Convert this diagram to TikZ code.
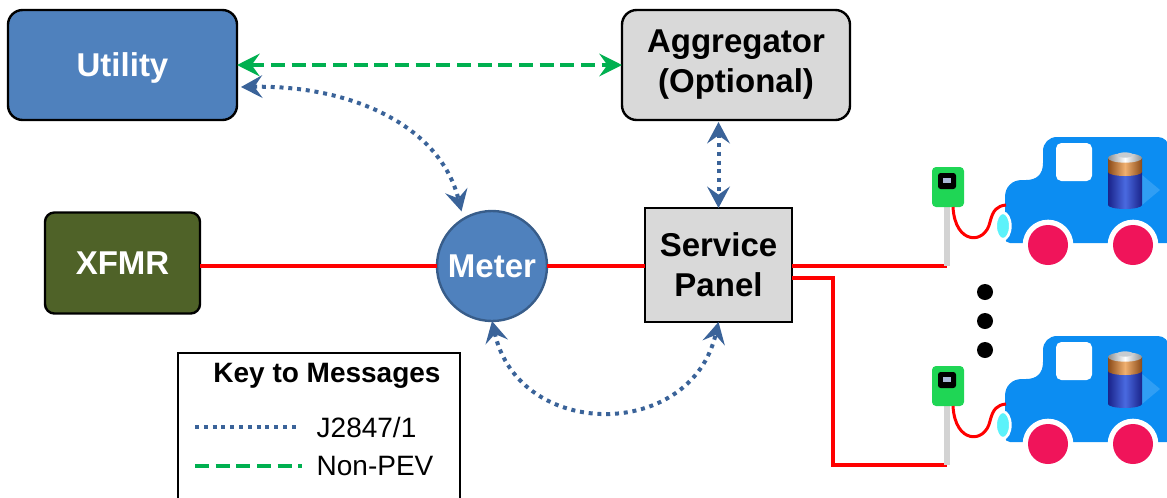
\documentclass[tikz,border=0pt]{standalone}
\usepackage{fontspec}
\setmainfont{Liberation Sans}
\usetikzlibrary{arrows.meta,calc}

\definecolor{utilblue}{HTML}{4F81BD}
\definecolor{meterrim}{HTML}{385D8A}
\definecolor{panelgray}{HTML}{D9D9D9}
\definecolor{xfmrgreen}{HTML}{4F6228}
\definecolor{msgblue}{HTML}{3A6399}
\definecolor{pevgreen}{HTML}{00B050}
\definecolor{powerred}{HTML}{FF0000}
\definecolor{carblue}{HTML}{0C8DF2}
\definecolor{wheelred}{HTML}{F0145A}
\definecolor{lampcyan}{HTML}{5CF2FA}
\definecolor{chargegreen}{HTML}{1FD655}
\definecolor{polegray}{HTML}{D3D3D3}
\definecolor{screenblue}{HTML}{A9B8D8}
\definecolor{batdark}{HTML}{1A238A}
\definecolor{batlight}{HTML}{4A6AE0}
\definecolor{copperdark}{HTML}{8A4A18}
\definecolor{copperlight}{HTML}{F0B070}
\definecolor{capgray}{HTML}{C8CCD0}

\newcommand\lblfont{\fontsize{24.75pt}{30pt}\selectfont\bfseries}
\newcommand\keyfont{\fontsize{21pt}{25pt}\selectfont}

% one charging post with its car, moved down by #1
\newcommand\evstation[1]{%
  \begin{scope}[shift={(0,#1)}]
    % post
    \fill[polegray] (944,207) rectangle (950,266);
    \fill[chargegreen, rounded corners=3pt] (932,167) rectangle (964,207);
    \fill[black, rounded corners=2pt] (938,173) rectangle (956,189);
    \fill[screenblue] (943,178) rectangle (951,183);
    % car body
    \fill[carblue] (1185,243) -- (1185,160) -- (1169,160) -- (1169,148)
      .. controls (1169,142) and (1164,137) .. (1158,137) -- (1057,137)
      .. controls (1049,137) and (1043,143) .. (1043,151) -- (1043,163)
      .. controls (1043,175) and (1036,180) .. (1026,180) -- (1022,180)
      .. controls (1012,180) and (1005,187) .. (1005,197) -- (1005,238)
      .. controls (1005,241) and (1007,243) .. (1010,243) -- cycle;
    % window
    \fill[white, rounded corners=4pt] (1056,143) rectangle (1092,181);
    % charging cable
    \draw[powerred, line width=2.25pt] (953,207)
      .. controls (955,245) and (985,245) .. (990,222)
      .. controls (993,210) and (997,206) .. (1006,205);
    % lamp
    \filldraw[fill=lampcyan, draw=white, line width=2pt] (1003,226) ellipse (5.5pt and 10pt);
    % wheels
    \foreach \wx in {1048,1133} {
      \fill[white] (\wx,245) circle (19pt);
      \fill[wheelred] (\wx,245) circle (15pt);
    }
    % battery glow
    \fill[carblue!70!white, opacity=0.5] (1142,175) -- (1160,190) -- (1142,205) -- cycle;
    % battery
    \shade[left color=batdark, right color=batdark, middle color=batlight]
      (1108,172) -- (1108,205) arc[start angle=180, end angle=360, x radius=12.75pt, y radius=3pt]
      -- (1142,172) -- cycle;
    \shade[left color=copperdark, right color=copperdark, middle color=copperlight]
      (1108,158) -- (1108,172) arc[start angle=180, end angle=360, x radius=12.75pt, y radius=3pt]
      -- (1142,158) -- cycle;
    \shade[left color=capgray!70!black, right color=capgray!70!black, middle color=white]
      (1125,158) ellipse (12.75pt and 3.5pt);
    \fill[capgray] (1125,155) ellipse (6pt and 2pt);
  \end{scope}%
}

\begin{document}
\begin{tikzpicture}[x=0.75pt, y=-0.75pt,
  unit/.style={line width=1.8pt, inner sep=0pt, outer sep=0pt, align=center, font=\lblfont},
  power/.style={draw=powerred, line width=3pt},
  jmsg/.style={draw=msgblue, line width=3pt, dash pattern=on 3pt off 3.6pt},
  jmsgarrow/.style={jmsg, arrows={Stealth[length=16pt,width=17pt,inset=6pt]-Stealth[length=16pt,width=17pt,inset=6pt]}},
  nonpev/.style={draw=pevgreen, line width=3pt, dash pattern=on 10.5pt off 5pt},
  nonpevarrow/.style={nonpev, arrows={Stealth[length=17pt,width=17pt,inset=6pt]-Stealth[length=17pt,width=17pt,inset=6pt]}},
  dot/.style={fill=black}]

\useasboundingbox (0,0) rectangle (1167,497);
\clip (0,0) rectangle (1167,497);

% equipment
\node[unit, draw=black, fill=utilblue, text=white, rounded corners=11pt,
      minimum width=171.75pt, minimum height=82.5pt] (utility) at (122.5,65) {};
\node[font=\lblfont, text=white] (utilitylabel) at (122.5,68) {Utility};
\node[unit, draw=black, fill=panelgray, rounded corners=11pt,
      minimum width=171pt, minimum height=82.5pt] (aggregator) at (736,65) {Aggregator\\(Optional)};
\node[unit, draw=black, fill=xfmrgreen, text=white, rounded corners=7pt,
      minimum width=116.25pt, minimum height=75.75pt] (xfmr) at (122.5,263) {XFMR};
\node[unit, circle, draw=meterrim, fill=utilblue, text=white,
      minimum size=82.5pt] (meter) at (492,266) {Meter};
\node[unit, draw=black, fill=panelgray,
      minimum width=110.25pt, minimum height=85.5pt] (panel) at (718.5,265) {Service\\Panel};

\coordinate (pole1) at (947,266);
\coordinate (pole2) at (947,465);

% power wiring
\draw[power] (xfmr.east |- meter.west) -- (meter.west);
\draw[power] (meter.east) -- (meter.east -| panel.west);
\draw[power] (panel.east |- pole1) -- (pole1);
\draw[power] ($(panel.east)+(0,13)$) -- ++(41,0) |- (pole2);

% charging posts and vehicles
\evstation{0}
\evstation{199}

% more vehicles
\fill[dot] (985,292) circle (6pt);
\fill[dot] (985,321) circle (6pt);
\fill[dot] (985,350) circle (6pt);

% messages
\draw[nonpevarrow] (utility.east) -- (aggregator.west);
\draw[jmsgarrow] ($(utility.east)+(4,22)$) .. controls (350,85) and (440,125) .. ($(meter.120)+(-3,-7)$);
\draw[jmsgarrow] ($(aggregator.south -| panel.north)+(0,2)$) -- (panel.north);
\draw[jmsgarrow] (meter.south) .. controls (519,441) and (691,441) .. (panel.south);

% key
\draw[line width=1.5pt] (178,353) rectangle (460,520);
\node[font=\keyfont\bfseries] (keytitle) at (327,376) {Key to Messages};
\coordinate (ja) at (195,427);
\coordinate (jb) at (300,427);
\coordinate (na) at (195,466);
\coordinate (nb) at (302,466);
\draw[jmsg] (ja) -- (jb);
\draw[nonpev] (na) -- (nb);
\node[font=\keyfont, anchor=west] (jlabel) at (312,427) {J2847/1};
\node[font=\keyfont, anchor=west] (nlabel) at (312,466) {Non-PEV};
\end{tikzpicture}
\end{document}
